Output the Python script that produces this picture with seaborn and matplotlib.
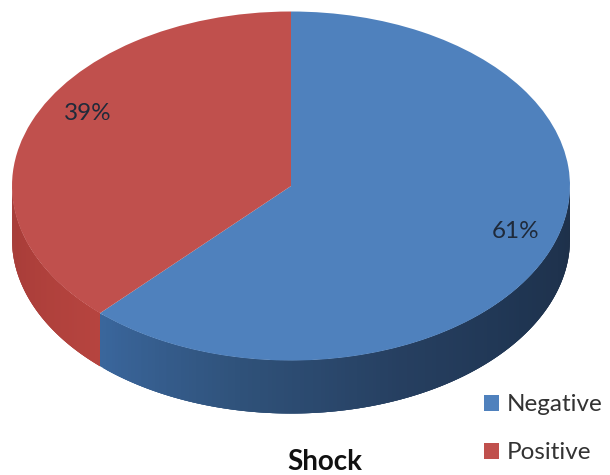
import numpy as np
import matplotlib
matplotlib.use("Agg")
import matplotlib.pyplot as plt
from matplotlib.colors import LinearSegmentedColormap
from matplotlib.collections import PolyCollection
import seaborn as sns

categories = ["Negative", "Positive"]
shares = [61, 39]
top_colors = ["#4f81bd", "#c0504d"]
chart_title = "Shock"

sns.set_theme(style="white")
plt.rcParams["font.family"] = ["Lato", "DejaVu Sans"]

WIDTH, HEIGHT = 610, 475
CX, CY, RX, RY, DEPTH = 291.0, 186.0, 279.0, 174.5, 53.0
FORESHORTEN_DEG = 3.67  # angular drift caused by the tilted viewpoint


def tilted_boundary(share_sum):
    """Math-convention angle of a clockwise boundary seen on the tilted disc."""
    clockwise = 360.0 * share_sum / sum(shares)
    clockwise += FORESHORTEN_DEG * np.sin(np.radians(2 * clockwise))
    return 90.0 - clockwise


fig = plt.figure(figsize=(WIDTH / 100, HEIGHT / 100), dpi=100)
ax = fig.add_axes([0, 0, 1, 1])

wedges, _ = ax.pie(
    shares,
    colors=top_colors,
    startangle=90,
    counterclock=False,
    radius=1.0,
    wedgeprops={"linewidth": 0, "zorder": 3},
)
split = tilted_boundary(shares[0])
wedges[0].set_theta1(split)
wedges[1].set_theta2(split)

# Unit-circle data coordinates, flattened into an ellipse by the axes limits.
ax.set_aspect("auto")
ax.set_xlim(-CX / RX, (WIDTH - CX) / RX)
ax.set_ylim((CY - HEIGHT) / RY, CY / RY)
ax.set_axis_off()

# Extruded rim: overlapping shaded strips along the front half of the ellipse.
blue_rim = LinearSegmentedColormap.from_list(
    "blue_rim", ["#3a669c", "#2f5179", "#263f60", "#1f3552", "#1e3049"]
)
red_rim = LinearSegmentedColormap.from_list("red_rim", ["#a53b37", "#b6443f"])
drop = DEPTH / RY


def rim(start_deg, end_deg, cmap):
    edges = np.linspace(start_deg, end_deg, 160)
    rad = np.radians(edges)
    xs, ys = np.cos(rad), np.sin(rad)
    polys = []
    for i in range(len(edges) - 1):
        j = min(i + 3, len(edges) - 1)
        outline = [(xs[k], ys[k]) for k in range(i, j + 1)]
        outline += [(xs[k], ys[k] - drop) for k in range(j, i - 1, -1)]
        polys.append(outline)
    shade = cmap(np.linspace(0, 1, len(polys)))
    ax.add_collection(
        PolyCollection(polys, facecolors=shade, edgecolors="none", linewidths=0, zorder=2)
    )


rim(split, 0, blue_rim)
rim(-180, split, red_rim)

# Percentage labels on the top face.
label_x = [(516 - CX) / RX, (88 - CX) / RX]
label_y = [(CY - 231) / RY, (CY - 113) / RY]
for x, y, value in zip(label_x, label_y, shares):
    ax.text(x, y, f"{value}%", ha="center", va="center", fontsize=17.5,
            color="#1f2a3a", zorder=4)

ax.text((325 - CX) / RX, (CY - 461.5) / RY, chart_title, ha="center", va="center",
        fontsize=20, fontweight="bold", color="#111111", zorder=4)

ax.legend(
    wedges, categories,
    loc="lower right", bbox_to_anchor=(1.0, 4 / HEIGHT), bbox_transform=ax.transAxes,
    frameon=False, fontsize=17.5, labelcolor="#333333",
    handlelength=0.62, handleheight=0.66, handletextpad=0.3,
    labelspacing=1.12, borderaxespad=0.11, borderpad=0.2,
)

fig.savefig("out.png", dpi=100, facecolor="white")
